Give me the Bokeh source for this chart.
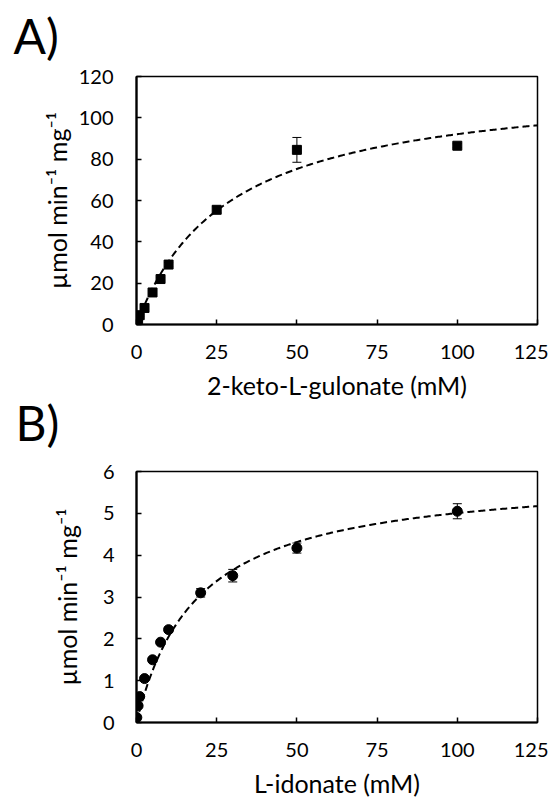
import numpy as np
from bokeh.plotting import figure
from bokeh.layouts import column
from bokeh.models import ColumnDataSource, Whisker, FixedTicker, Title, Range1d
from bokeh.embed import file_html
from bokeh.resources import INLINE

# Panel A: 2-keto-L-gulonate (squares)
a_conc = [0.1, 0.5, 1, 2.5, 5, 7.5, 10, 25, 50, 100]
a_rate = [0.8, 2.5, 4.5, 8.0, 15.5, 22.0, 29.0, 55.5, 84.5, 86.5]
a_err = [0.3, 0.5, 0.5, 0.6, 0.8, 0.8, 1.0, 1.5, 6.0, 1.0]
A_VMAX = 118.6
A_KM = 28.8

# Panel B: L-idonate (circles)
b_conc = [0.1, 0.5, 1, 2.5, 5, 7.5, 10, 20, 30, 50, 100]
b_rate = [0.12, 0.40, 0.62, 1.05, 1.50, 1.92, 2.22, 3.10, 3.51, 4.17, 5.05]
b_err = [0.02, 0.03, 0.03, 0.04, 0.05, 0.05, 0.06, 0.10, 0.15, 0.12, 0.18]
B_VMAX = 5.96
B_KM = 19.07

x_ticks = [0, 25, 50, 75, 100, 125]
a_yticks = [0, 20, 40, 60, 80, 100, 120]
b_yticks = [0, 1, 2, 3, 4, 5, 6]

FONT = "Lato"
YLABEL = "µmol min⁻¹ mg⁻¹"


def style(p, xlabel, ytick_standoff, label_standoff_y):
    p.xgrid.visible = False
    p.ygrid.visible = False
    p.outline_line_color = "black"
    p.outline_line_width = 1.5
    for ax in (p.xaxis[0], p.yaxis[0]):
        ax.axis_line_width = 2.2
        ax.axis_line_color = "black"
        ax.major_tick_in = 5
        ax.major_tick_out = 0
        ax.major_tick_line_width = 1.5
        ax.minor_tick_line_color = None
        ax.major_label_text_font = FONT
        ax.major_label_text_font_size = "20px"
        ax.major_label_text_color = "black"
        ax.axis_label_text_font = FONT
        ax.axis_label_text_font_size = "25px"
        ax.axis_label_text_font_style = "normal"
        ax.axis_label_text_color = "black"
    p.xaxis.axis_label = xlabel
    p.yaxis.axis_label = YLABEL
    p.xaxis.major_label_standoff = 20
    p.yaxis.major_label_standoff = ytick_standoff
    p.xaxis.axis_label_standoff = 8
    p.yaxis.axis_label_standoff = label_standoff_y
    p.xaxis.ticker = FixedTicker(ticks=x_ticks)


def panel_title(p, text, offset, standoff):
    p.add_layout(Title(text=text, align="left", offset=offset, standoff=standoff,
                       text_font=FONT, text_font_size="48px", text_font_style="normal",
                       text_color="black"), "above")


# ---------- Panel A ----------
pa = figure(width=548, height=430, output_backend="svg", toolbar_location=None,
            x_range=Range1d(0, 125), y_range=Range1d(0, 120),
            min_border_left=136, min_border_right=11, min_border_top=96, min_border_bottom=86,
            margin=(-20, 0, 0, 0))
pa.border_fill_color = None
style(pa, "2-keto-L-gulonate (mM)", 23, 4)
pa.yaxis.ticker = FixedTicker(ticks=a_yticks)
panel_title(pa, "A)", -123, 25)

xa = np.linspace(0, 125, 300)
pa.line(xa, A_VMAX * xa / (A_KM + xa), line_color="black", line_width=2, line_dash="7 4")

src_a = ColumnDataSource(dict(x=a_conc, y=a_rate,
                              lo=[v - e for v, e in zip(a_rate, a_err)],
                              hi=[v + e for v, e in zip(a_rate, a_err)]))
wa = Whisker(source=src_a, base="x", lower="lo", upper="hi", line_color="black", line_width=1)
wa.upper_head.size = 9
wa.lower_head.size = 9
wa.upper_head.line_width = 1
wa.lower_head.line_width = 1
pa.add_layout(wa)
pa.scatter("x", "y", source=src_a, marker="square", size=9, color="black")

# ---------- Panel B ----------
pb = figure(width=548, height=434, output_backend="svg", toolbar_location=None,
            x_range=Range1d(0, 125), y_range=Range1d(0, 6),
            min_border_left=132, min_border_right=10, min_border_top=101, min_border_bottom=82,
            margin=(-40, 0, 0, 0))
pb.border_fill_color = None
style(pb, "L-idonate (mM)", 22, 18)
pb.yaxis.ticker = FixedTicker(ticks=b_yticks)
panel_title(pb, "B)", -121, 42)

xb = np.linspace(0, 125, 300)
pb.line(xb, B_VMAX * xb / (B_KM + xb), line_color="black", line_width=2, line_dash="7 4")

src_b = ColumnDataSource(dict(x=b_conc, y=b_rate,
                              lo=[v - e for v, e in zip(b_rate, b_err)],
                              hi=[v + e for v, e in zip(b_rate, b_err)]))
wb = Whisker(source=src_b, base="x", lower="lo", upper="hi", line_color="black", line_width=1)
wb.upper_head.size = 9
wb.lower_head.size = 9
wb.upper_head.line_width = 1
wb.lower_head.line_width = 1
pb.add_layout(wb)
pb.scatter("x", "y", source=src_b, marker="circle", size=10, color="black")

layout = column(pa, pb, spacing=0)
open("out.html", "w").write(file_html(layout, INLINE))
